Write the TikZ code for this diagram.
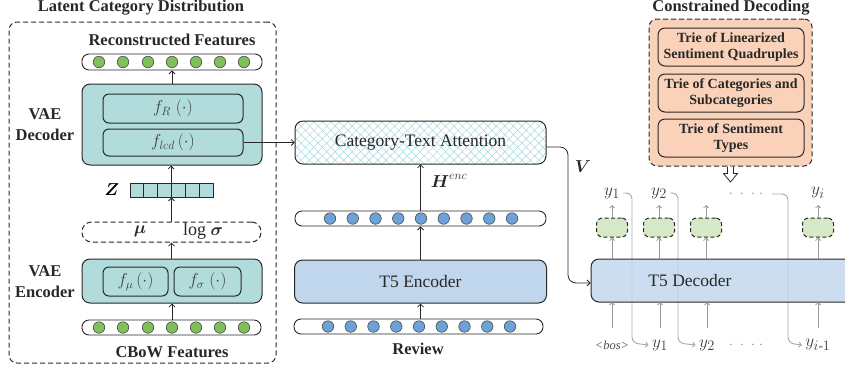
\documentclass[tikz,border=0pt]{standalone}
\usepackage{amsmath}
\usepackage{fontspec}
\setmainfont{Liberation Serif}
\usetikzlibrary{arrows.meta,patterns.meta,calc}
\definecolor{teal1}{RGB}{178,219,219}
\definecolor{gcirc}{RGB}{128,192,90}
\definecolor{bcirc}{RGB}{108,162,216}
\definecolor{encblue}{RGB}{192,214,236}
\definecolor{peach}{RGB}{250,210,186}
\definecolor{gbox}{RGB}{214,232,198}
\definecolor{hatch}{RGB}{165,215,220}
\definecolor{edge}{RGB}{40,40,40}
\tikzset{
  box/.style={draw=edge, line width=1pt, rounded corners=6pt, inner sep=0pt},
  pill/.style={draw=edge, line width=0.9pt, rounded corners=7pt, fill=white, inner sep=0pt},
  gdot/.style={circle, draw=edge!85, line width=0.6pt, fill=gcirc, minimum size=11.5pt, inner sep=0pt},
  bdot/.style={circle, draw=edge!85, line width=0.6pt, fill=bcirc, minimum size=11.5pt, inner sep=0pt},
  arr/.style={-{Straight Barb[length=3pt,width=6pt]}, line width=0.8pt, draw=edge},
  garr/.style={-{Straight Barb[length=2.5pt,width=5pt]}, line width=0.8pt, draw=black!40},
  gline/.style={line width=0.9pt, draw=black!35, rounded corners=6pt, -{Straight Barb[length=2.5pt,width=5pt]}},
  ttl/.style={font=\fontsize{16.5}{19}\selectfont\bfseries, text=edge},
  side/.style={font=\fontsize{16.5}{21}\selectfont\bfseries, align=center, text=edge},
  mtxt/.style={font=\fontsize{18}{20}\selectfont, text=black!75},
  big/.style={font=\fontsize{17.5}{19}\selectfont, text=edge},
  trie/.style={box, fill=peach, minimum width=146pt, minimum height=38pt, rounded corners=7pt,
     align=center, font=\fontsize{14}{16.5}\selectfont\bfseries, text=edge},
  gbx/.style={box, dashed, dash pattern=on 4pt off 2.5pt, fill=gbox, minimum width=31pt, minimum height=19pt},
  ylab/.style={font=\fontsize{19}{21}\selectfont, text=black!75},
  dashbox/.style={draw=edge, line width=1pt, dash pattern=on 5pt off 3pt, rounded corners=8pt}
}
\begin{document}
\begin{tikzpicture}[x=1pt,y=-1pt]
\useasboundingbox (0,0) rectangle (845,368);
\clip (0,0) rectangle (845,368);

% ---------------- left: latent category distribution
\node[ttl] (t1) at (141,8) {Latent Category Distribution};
\node[dashbox, minimum width=267pt, minimum height=341pt] (lcd) at (142.5,192.5) {};
\node[ttl] (rf) at (172,40) {Reconstructed Features};
\node[pill, minimum width=180pt, minimum height=16pt] (rpill) at (172,62) {};
\foreach \i/\x in {1/99,2/123,3/148,4/172,5/196,6/220,7/244}
  \node[gdot] (r\i) at (\x,62) {};
\node[box, fill=teal1, minimum width=180pt, minimum height=81pt, rounded corners=8pt] (vdec) at (172,124.5) {};
\node[box, fill=teal1, minimum width=140pt, minimum height=29pt, mtxt] (fr) at (173,108.5) {$f_R\;(\cdot)$};
\node[box, fill=teal1, minimum width=140pt, minimum height=27pt, mtxt] (flcd) at (173,142.5) {$f_{lcd}\,(\cdot)$};
\node[side] (vdl) at (45,125) {VAE\\Decoder};
\draw[arr] (vdec.north) -- (rpill.south);

\node[font=\fontsize{17}{19}\selectfont] (zl) at (112,190) {$\boldsymbol{Z}$};
\foreach \i in {1,...,6}
  \node[draw=edge, fill=teal1, line width=0.8pt, minimum width=13.83pt, minimum height=14pt, inner sep=0pt] (z\i) at ({130+13.83*(\i-0.5)},190) {};
\draw[arr] (z4.north west) -- (vdec.south -| z4.north west);

\node[pill, dashbox, rounded corners=9.5pt, minimum width=179pt, minimum height=20pt] (mus) at (171.5,232) {};
\node[mtxt, text=edge] (mu) at (140,231) {$\boldsymbol{\mu}$};
\node[mtxt, text=edge] (lsig) at (203,231) {log $\boldsymbol{\sigma}$};
\draw[arr] (mus.north) -- (mus.north |- z4.south);

\node[box, fill=teal1, minimum width=180pt, minimum height=44pt, rounded corners=8pt] (venc) at (172,281) {};
\node[box, fill=teal1, minimum width=65pt, minimum height=29pt, mtxt] (fmu) at (135.5,281.5) {$f_\mu\,(\cdot)$};
\node[box, fill=teal1, minimum width=67pt, minimum height=29pt, mtxt] (fsig) at (207.5,281.5) {$f_\sigma\;(\cdot)$};
\node[side] (vel) at (45,281.5) {VAE\\Encoder};
\draw[arr] (venc.north -| mus.north) -- (mus.south);

\node[pill, minimum width=179pt, minimum height=15pt] (cpill) at (171.5,327.5) {};
\foreach \i/\x in {1/99,2/123,3/148,4/172,5/196,6/220,7/244}
  \node[gdot] (c\i) at (\x,327.5) {};
\draw[arr] (venc.south |- cpill.north) -- (venc.south);
\node[ttl] (cbow) at (172,352) {CBoW Features};

% ---------------- middle: encoder
\node[box, minimum width=251pt, minimum height=43pt, rounded corners=8pt,
  preaction={pattern={Lines[angle=45,distance=6pt,line width=0.5pt]}, pattern color=hatch},
  pattern={Lines[angle=-45,distance=6pt,line width=0.5pt]}, pattern color=hatch,
  big] (att) at (420.5,142.5) {Category-Text Attention};
\draw[arr] (flcd.east) -- (att.west);
\node[font=\fontsize{18}{20}\selectfont, text=edge] (henc) at (449,181) {$\boldsymbol{H}^{enc}$};
\node[pill, minimum width=251pt, minimum height=15pt] (eo) at (420.5,218.5) {};
\foreach \i in {1,...,9}
  \node[bdot] (e\i) at ({330+22.75*(\i-1)},218.5) {};
\draw[arr] (eo.north) -- (att.south);
\node[box, fill=encblue, minimum width=252pt, minimum height=43pt, rounded corners=8pt, big] (t5enc) at (420.5,281.5) {T5 Encoder};
\draw[arr] (t5enc.north) -- (eo.south);
\node[pill, minimum width=249pt, minimum height=15pt] (rvp) at (418.5,326.5) {};
\foreach \i in {1,...,9}
  \node[bdot] (w\i) at ({328+22.75*(\i-1)},326.5) {};
\draw[arr] (t5enc.south |- rvp.north) -- (t5enc.south);
\node[ttl] (rev) at (418,349) {Review};

% ---------------- right: constrained decoding
\node[ttl] (t2) at (731,8) {Constrained Decoding};
\node[dashbox, fill=peach, minimum width=163pt, minimum height=147pt] (cd) at (730.5,92.5) {};
\node[trie] (tr1) at (731,47) {Trie of Linearized\\Sentiment Quadruples};
\node[trie] (tr2) at (731,93) {Trie of Categories and\\Subcategories};
\node[trie] (tr3) at (731,138) {Trie of Sentiment\\Types};
\draw[draw=edge, line width=0.8pt, fill=white]
  ($(cd.south)+(-3,0)$) -- ++(0,7) -- ++(-4,0) -- ++(7,8.5) -- ++(7,-8.5) -- ++(-4,0) -- ++(0,-7);

% decoder labels
\node[ylab] (y1t) at (612,193) {$y_1$};
\node[ylab] (y2t) at (659,193) {$y_2$};
\node[ylab] (yit) at (818,193) {$y_i$};
\node[font=\fontsize{14}{16}\selectfont, text=black!45] (tdots) at (746,194) {$\cdot\;\cdot\;\cdot\;\cdot$};
\node[font=\fontsize{12.5}{14}\selectfont\itshape, text=black!70] (bos) at (612,345) {<bos>};
\node[ylab] (y1b) at (660,345) {$y_1$};
\node[ylab] (y2b) at (707,345) {$y_2$};
\node[ylab] (yib) at (818,345) {$y_{i\text{-}1}$};
\node[font=\fontsize{14}{16}\selectfont, text=black!45] (bdots) at (746,345) {$\cdot\;\cdot\;\cdot\;\cdot$};

% feedback lines (behind decoder)
\draw[gline] (y1t.east) -| (632,343) -- (y1b.west);
\draw[gline] (y2t.east) -| (678,343) -- (y2b.west);
\draw[gline] (772,194) -| (788,343) -- (yib.west);

\node[draw=edge, line width=1pt, fill=encblue, fill opacity=0.82, text opacity=1, rounded corners=8pt,
  minimum width=280pt, minimum height=43pt, inner sep=0pt] (t5dec) at (731,280.5) {};
\node[big] (t5dl) at (690,281) {T5 Decoder};

\draw[arr, rounded corners=8pt] ([yshift=-4.5pt]att.east) -| (568,283) -- ([yshift=-2.5pt]t5dec.west);
\node[font=\fontsize{18}{20}\selectfont, text=edge] (vl) at (583,167) {$\boldsymbol{V}$};

\foreach \n/\x in {g1/612,g2/659,g3/706,g4/818}{
  \node[gbx] (\n) at (\x,227.5) {};
  \draw[garr] (\n.south |- t5dec.north) -- (\n.south);
  \draw[garr] (\n.north) -- (\x,205);
}
\foreach \x in {612,660,707,818}
  \draw[garr] (\x,328) -- (\x,302);
\end{tikzpicture}
\end{document}
